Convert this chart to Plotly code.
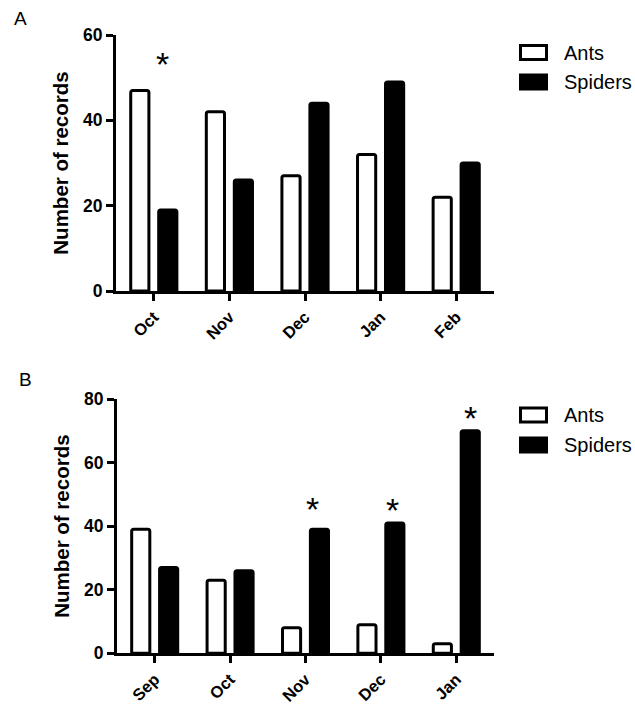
import plotly.graph_objects as go

# ---- data ----
months_a = ["Oct", "Nov", "Dec", "Jan", "Feb"]
ants_a = [47, 42, 27, 32, 22]
spiders_a = [19, 26, 44, 49, 30]

months_b = ["Sep", "Oct", "Nov", "Dec", "Jan"]
ants_b = [39, 23, 8, 9, 3]
spiders_b = [27, 26, 39, 41, 70]

# significance asterisks: (category, y-position in data units, x offset px)
sig_a = [("Oct", 54.5, 9)]
sig_b = [("Nov", 47.3, 7), ("Dec", 47.0, 12), ("Jan", 75.8, 14)]

series_names = ["Ants", "Spiders"]
yticks_a = [0, 20, 40, 60]
yticks_b = [0, 20, 40, 60, 80]

W, H = 635, 705
FONT = "Liberation Sans, Arial, sans-serif"


def px(x):
    return x / W


def py(y):
    return 1 - y / H


fig = go.Figure()

line = dict(color="black", width=3)

# panel A
fig.add_trace(go.Bar(x=months_a, y=ants_a, name=series_names[0],
                     marker=dict(color="white", line=line, cornerradius=2),
                     xaxis="x", yaxis="y", showlegend=False))
fig.add_trace(go.Bar(x=months_a, y=spiders_a, name=series_names[1],
                     marker=dict(color="black", line=line, cornerradius=2),
                     xaxis="x", yaxis="y", showlegend=False))
# panel B
fig.add_trace(go.Bar(x=months_b, y=ants_b, name=series_names[0],
                     marker=dict(color="white", line=line, cornerradius=2),
                     xaxis="x2", yaxis="y2", showlegend=False))
fig.add_trace(go.Bar(x=months_b, y=spiders_b, name=series_names[1],
                     marker=dict(color="black", line=line, cornerradius=2),
                     xaxis="x2", yaxis="y2", showlegend=False))

ytickfont = dict(family=FONT, size=17.5, color="black", weight="bold")
xtickfont = dict(family=FONT, size=16.5, color="black", weight="bold")
titlefont = dict(family=FONT, size=20.5, color="black", weight="bold")

xcommon = dict(type="category", range=[-0.5, 4.5], showline=True, linewidth=3,
               linecolor="black", ticks="outside", ticklen=7, tickwidth=3,
               tickcolor="black", tickangle=-45, tickfont=xtickfont,
               showgrid=False, zeroline=False, fixedrange=True, automargin=False)
ycommon = dict(showline=True, linewidth=3, linecolor="black", ticks="outside",
               ticklen=7, tickwidth=3, tickcolor="black", tickfont=ytickfont,
               showgrid=False, zeroline=False, automargin=False,
               title=dict(text="Number of records", font=titlefont, standoff=9))

fig.update_layout(
    template="none",
    width=W, height=H,
    margin=dict(l=0, r=0, t=0, b=0, pad=0),
    paper_bgcolor="white", plot_bgcolor="white",
    barmode="group", bargap=0.26, bargroupgap=0.35,
    showlegend=False,
    xaxis=dict(xcommon, domain=[px(116), px(494)], anchor="y"),
    yaxis=dict(ycommon, domain=[py(291), py(35)], range=[0, 60],
               tickvals=yticks_a, anchor="x"),
    xaxis2=dict(xcommon, domain=[px(117), px(494)], anchor="y2"),
    yaxis2=dict(ycommon, domain=[py(653.3), py(399)], range=[0, 80],
                tickvals=yticks_b, anchor="x2"),
)

annotations = []
# asterisks
star_font = dict(family=FONT, size=34, color="black")
for cat, yv, dx in sig_a:
    annotations.append(dict(x=cat, y=yv, xref="x", yref="y", text="*",
                            showarrow=False, xshift=dx, yshift=-6, font=star_font))
for cat, yv, dx in sig_b:
    annotations.append(dict(x=cat, y=yv, xref="x2", yref="y2", text="*",
                            showarrow=False, xshift=dx, yshift=-6, font=star_font))

# panel labels
annotations.append(dict(x=px(20), y=py(18), xref="paper", yref="paper", text="A",
                        showarrow=False, xanchor="center", yanchor="middle",
                        font=dict(family=FONT, size=19, color="black")))
annotations.append(dict(x=px(25), y=py(379), xref="paper", yref="paper", text="B",
                        showarrow=False, xanchor="center", yanchor="middle",
                        font=dict(family=FONT, size=19, color="black")))

# custom legends
shapes = []
legend_rows = [
    (52.5, 82.0),   # panel A rows (Ants, Spiders) centre y px
    (415.0, 445.0), # panel B rows
]
fills = ["white", "black"]
for rows in legend_rows:
    for name, cy, fill in zip(series_names, rows, fills):
        shapes.append(dict(type="rect", xref="paper", yref="paper",
                           x0=px(520.5), x1=px(546.5), y0=py(cy - 7), y1=py(cy + 7),
                           fillcolor=fill, line=dict(color="black", width=3)))
        annotations.append(dict(x=px(562), y=py(cy), xref="paper", yref="paper",
                                text=name, showarrow=False, xanchor="left",
                                yanchor="middle",
                                font=dict(family=FONT, size=20, color="black")))

fig.update_layout(annotations=annotations, shapes=shapes)

fig.write_html("out.html")
